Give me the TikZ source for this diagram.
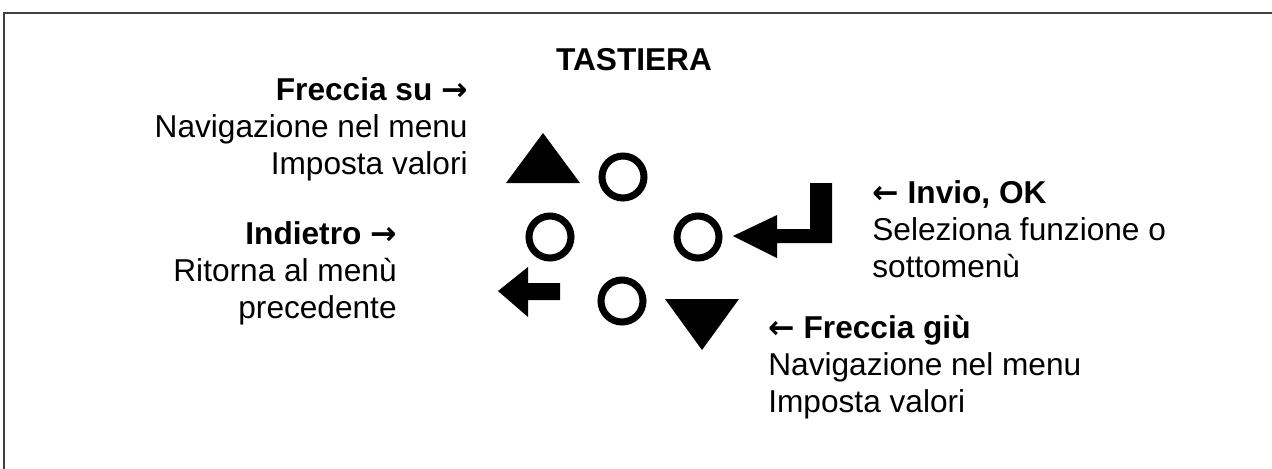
\documentclass[tikz,border=0pt]{standalone}
\usepackage{fontspec}
\setmainfont{Liberation Sans}
\newfontfamily\freccia{DejaVu Sans}
\usepackage{tikz}

\begin{document}
\begin{tikzpicture}[x=0.02cm, y=-0.02cm,
        tasto/.style={draw=black, line width=4pt},
        voce/.style={font=\fontsize{18}{20.8}\selectfont, inner sep=0pt}]
        \useasboundingbox (0, 0) rectangle (1272, 468);
        \draw[line width=1pt, color=black!75] (4, 470) -- (4, 13) -- (1274, 13);

        \node[voce, font=\fontsize{18}{20.8}\selectfont\bfseries, anchor=base] (titolo) at (634, 70) {TASTIERA};

        \node[voce, align=right, anchor=base east] (su) at (468, 174)
            {\textbf{Freccia su {\freccia\bfseries →}}\\Navigazione nel menu\\Imposta valori};
        \node[voce, align=right, anchor=base east] (indietro) at (397, 318)
            {\textbf{Indietro {\freccia\bfseries →}}\\Ritorna al menù\\precedente};
        \node[voce, align=left, anchor=base west] (invio) at (872, 277)
            {\textbf{{\freccia\bfseries ←} Invio, OK}\\Seleziona funzione o\\sottomenù};
        \node[voce, align=left, anchor=base west] (giu) at (768, 412)
            {\textbf{{\freccia\bfseries ←} Freccia giù}\\Navigazione nel menu\\Imposta valori};

        \fill (506, 183) -- (543, 133) -- (580, 183) -- cycle;
        \fill (665, 299) -- (739, 299) -- (702, 350) -- cycle;
        \fill (733, 236) -- (777, 215) -- (777, 229) -- (810, 229) -- (810, 183)
            -- (832, 183) -- (832, 243) -- (777, 243) -- (777, 258) -- cycle;
        \fill (498, 291) -- (528, 267) -- (528, 283) -- (560, 283)
            -- (560, 300) -- (528, 300) -- (528, 317) -- cycle;

        \draw[tasto] (623, 177) circle (21);
        \draw[tasto] (550, 237) circle (21);
        \draw[tasto] (698, 237) circle (21);
        \draw[tasto] (622, 301) circle (21);
\end{tikzpicture}
\end{document}
